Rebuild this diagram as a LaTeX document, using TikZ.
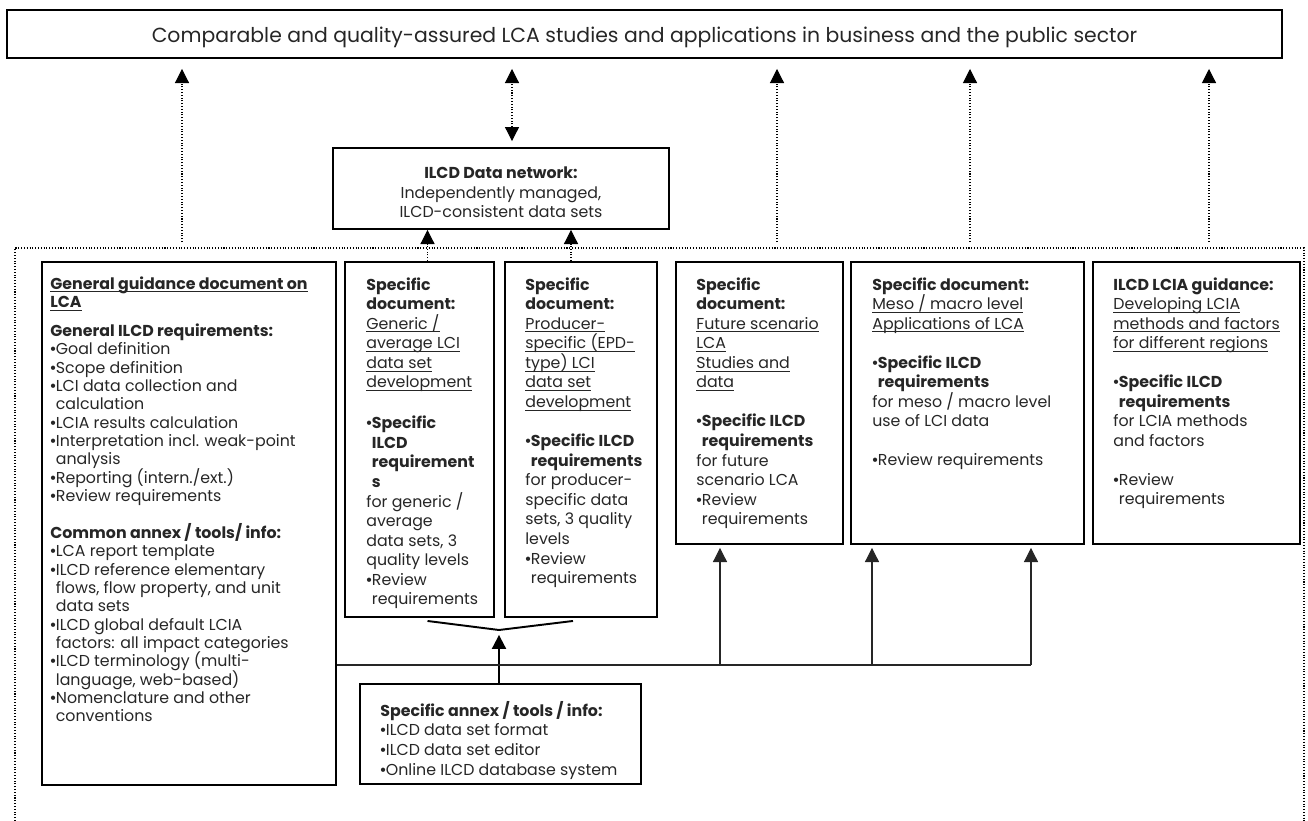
\documentclass[tikz,border=0pt]{standalone}
\usepackage{fontspec}
\setmainfont{Poppins}
\newfontfamily\bulfont{Liberation Sans}
\usetikzlibrary{arrows.meta,fit,calc}
\newcommand\bul{{\bulfont\textbullet}}
\newcommand\hng{\hphantom{\bul}}
\newsavebox\undlbox
\newcommand\undl[1]{\sbox\undlbox{#1}\rlap{\rule[-1.8pt]{\wd\undlbox}{0.55pt}}\usebox\undlbox}

\begin{document}
\lineskiplimit=-10pt
\begin{tikzpicture}[
	x=0.02cm, y=-0.02cm,
	font=\fontsize{9}{11.15}\selectfont,
	>={Triangle[length=8pt,width=8pt]},
	box/.style={draw, line width=1.1pt, inner sep=0pt},
	txt/.style={anchor=north west, align=left, inner sep=0pt, text=black!85},
	dots/.style={densely dotted, line width=0.6pt},
	link/.style={line width=0.6pt, black!85},
	thk/.style={line width=1.1pt},
]
\useasboundingbox (0,0) rectangle (1308,821);
% goal box and data network
\node[box, fit={(7,10) (1282,58)}] (top) {};
\node[text=black!85, inner sep=0pt, font=\fontsize{11.6}{13}\selectfont] (toptx) at ($(top.center)+(0,3)$) {Comparable and quality-assured LCA studies and applications in business and the public sector};
\node[box, fit={(333,148) (669,229)}] (ilcd) {};
\node[text=black!85, inner sep=0pt, align=center] (ilcdtx) at ($(ilcd.center)+(0,4)$) {\textbf{ILCD Data network:}\\ Independently managed,\\ ILCD-consistent data sets};
% documents (frame, then text)
\node[box, fit={(42,262) (336,785)}] (gen) {};
\node[box, fit={(345,262) (494,617)}] (s1) {};
\node[box, fit={(505,262) (657,617)}] (s2) {};
\node[box, fit={(676,262) (843,544)}] (fut) {};
\node[box, fit={(851,262) (1084,544)}] (meso) {};
\node[box, fit={(1093,262) (1300,544)}] (lcia) {};
\node[box, fit={(360,684) (641,784)}] (anx) {};

\node[txt, font=\fontsize{9}{10.45}\selectfont] (gentx) at (50,276) {\textbf{\undl{General guidance document on}}\\
\textbf{\undl{LCA}}\\[6pt]
\textbf{General ILCD requirements:}\\
\bul Goal definition\\
\bul Scope definition\\
\bul LCI data collection and\\
\hng calculation\\
\bul LCIA results calculation\\
\bul Interpretation incl. weak-point\\
\hng analysis\\
\bul Reporting (intern./ext.)\\
\bul Review requirements\\[10.5pt]
\textbf{Common annex / tools/ info:}\\
\bul LCA report template\\
\bul ILCD reference elementary\\
\hng flows, flow property, and unit\\
\hng data sets\\
\bul ILCD global default LCIA\\
\hng factors: all impact categories\\
\bul ILCD terminology (multi-\\
\hng language, web-based)\\
\bul Nomenclature and other\\
\hng conventions};

\node[txt] (s1tx) at (366,277) {\textbf{Specific}\\ \textbf{document:}\\
\undl{Generic /}\\ \undl{average LCI}\\ \undl{data set}\\ \undl{development}\\[12pt]
\bul\textbf{Specific}\\ \hng\textbf{ILCD}\\ \hng\textbf{requirement}\\ \hng\textbf{s}\\
for generic /\\ average\\ data sets, 3\\ quality levels\\
\bul Review\\ \hng requirements};

\node[txt] (s2tx) at (525,277) {\textbf{Specific}\\ \textbf{document:}\\
\undl{Producer-}\\ \undl{specific (EPD-}\\ \undl{type) LCI}\\ \undl{data set}\\ \undl{development}\\[11pt]
\bul\textbf{Specific ILCD}\\ \hng\textbf{requirements}\\
for producer-\\ specific data\\ sets, 3 quality\\ levels\\
\bul Review\\ \hng requirements};

\node[txt] (futtx) at (696,277) {\textbf{Specific}\\ \textbf{document:}\\
\undl{Future scenario}\\ \undl{LCA}\\ \undl{Studies and}\\ \undl{data}\\[11pt]
\bul\textbf{Specific ILCD}\\ \hng\textbf{requirements}\\
for future\\ scenario LCA\\
\bul Review\\ \hng requirements};

\node[txt] (mesotx) at (872,277) {\textbf{Specific document:}\\
\undl{Meso / macro level}\\ \undl{Applications of LCA}\\[11pt]
\bul\textbf{Specific ILCD}\\ \hng\textbf{requirements}\\
for meso / macro level\\ use of LCI data\\[11pt]
\bul Review requirements};

\node[txt] (lciatx) at (1113,277) {\textbf{ILCD LCIA guidance:}\\
\undl{Developing LCIA}\\ \undl{methods and factors}\\ \undl{for different regions}\\[11pt]
\bul\textbf{Specific ILCD}\\ \hng\textbf{requirements}\\
for LCIA methods\\ and factors\\[11pt]
\bul Review\\ \hng requirements};

\node[txt] (anxtx) at (380,701) {\textbf{Specific annex / tools / info:}\\
\bul ILCD data set format\\ \bul ILCD data set editor\\ \bul Online ILCD database system};

% dotted frame round the documents
\draw[dots] (15,821) |- (1304,248) -- (1304,821);

% dotted arrows up
\foreach \xx in {182,777,970,1209}{
	\coordinate (u\xx) at (\xx,242);
	\draw[dots,->,shorten >=5.7pt] (u\xx) -- (u\xx |- top.south);
}
\coordinate (dn) at ($(ilcd.north)+(11,0)$);
\draw[dots,<->,shorten <=3.4pt,shorten >=5.7pt] (dn) -- (dn |- top.south);
\coordinate (p1) at ($(s1.north)+(8,0)$);
\coordinate (p2) at ($(s2.north)+(-10,0)$);
\draw[dots,->] (p1) -- (p1 |- ilcd.south);
\draw[dots,->] (p2) -- (p2 |- ilcd.south);

% annex into the two data set documents
\coordinate (m) at (499,630);
\draw[thk] ($(s1.south)+(8,3)$) -- (m) -- ($(s2.south)+(-8,3)$);
\draw[thk,->,shorten >=2.8pt] (anx.north -| m) -- (m);

% general guidance into the other documents
\coordinate (j1) at (720,665);
\coordinate (j2) at (872,665);
\coordinate (j3) at (1031,665);
\draw[link] (gen.east |- j1) -- (j3);
\draw[link,->,shorten >=1.7pt] (j1) -- (j1 |- fut.south);
\draw[link,->,shorten >=1.7pt] (j2) -- (j2 |- meso.south);
\draw[link,->,shorten >=1.7pt] (j3) -- (j3 |- meso.south);
\end{tikzpicture}
\end{document}
